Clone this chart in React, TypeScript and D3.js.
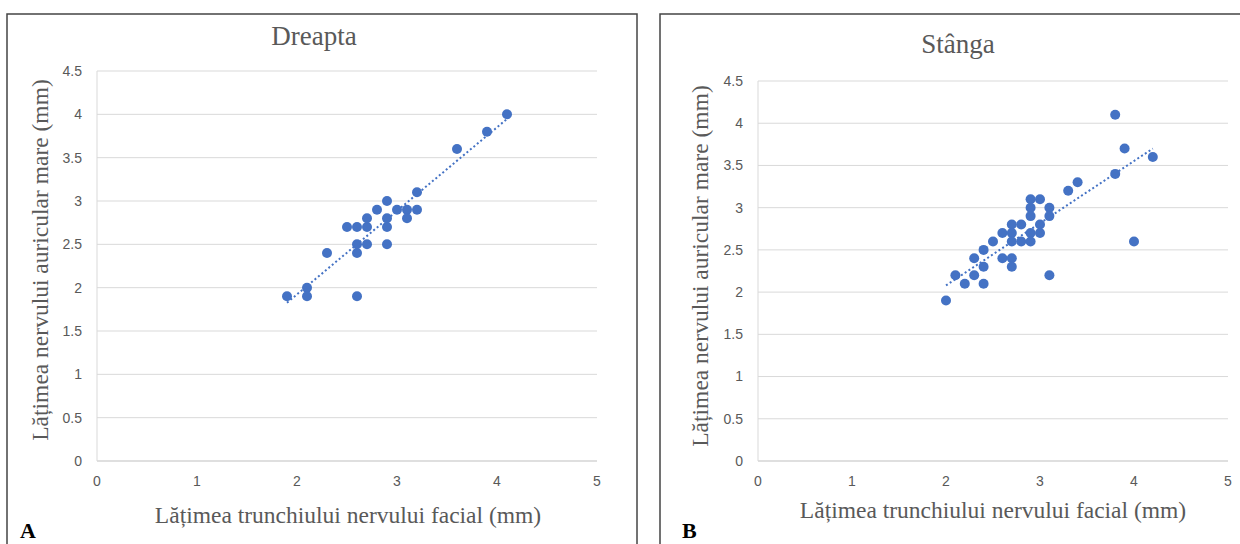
import React from "react";
import { scaleLinear, line } from "d3";

const xTicks = [0, 1, 2, 3, 4, 5];
const yTicks = [0, 0.5, 1, 1.5, 2, 2.5, 3, 3.5, 4, 4.5];

// Dreapta (right side)
const dreaptaX = [1.9, 2.1, 2.1, 2.6, 2.3, 2.5, 2.6, 2.7, 2.6, 2.6, 2.7, 2.7, 2.8, 2.9, 2.9, 2.9, 2.9, 3.0, 3.1, 3.1, 3.2, 3.2, 3.6, 3.9, 4.1];
const dreaptaY = [1.9, 2.0, 1.9, 1.9, 2.4, 2.7, 2.7, 2.7, 2.5, 2.4, 2.5, 2.8, 2.9, 3.0, 2.8, 2.7, 2.5, 2.9, 2.9, 2.8, 2.9, 3.1, 3.6, 3.8, 4.0];

// Stânga (left side)
const stangaX = [2.0, 2.1, 2.2, 2.3, 2.3, 2.4, 2.4, 2.4, 2.5, 2.6, 2.6, 2.7, 2.7, 2.7, 2.7, 2.7, 2.8, 2.8, 2.9, 2.9, 2.9, 2.9, 2.9, 3.0, 3.0, 3.0, 3.1, 3.1, 3.1, 3.3, 3.4, 3.8, 3.9, 3.8, 4.2, 4.0];
const stangaY = [1.9, 2.2, 2.1, 2.2, 2.4, 2.1, 2.3, 2.5, 2.6, 2.7, 2.4, 2.8, 2.7, 2.6, 2.4, 2.3, 2.8, 2.6, 3.1, 3.0, 2.9, 2.7, 2.6, 3.1, 2.8, 2.7, 3.0, 2.9, 2.2, 3.2, 3.3, 4.1, 3.7, 3.4, 3.6, 2.6];

const xTitle = "Lățimea trunchiului nervului facial (mm)";
const yTitle = "Lățimea nervului auricular mare (mm)";

const blue = "#4472C4";
const gray = "#595959";
const serif = "'Liberation Serif', 'Times New Roman', serif";
const sans = "'Liberation Sans', Arial, sans-serif";

function fit(xs: number[], ys: number[]) {
  const n = xs.length;
  const mx = xs.reduce((a, b) => a + b, 0) / n;
  const my = ys.reduce((a, b) => a + b, 0) / n;
  let sxy = 0, sxx = 0;
  xs.forEach((x, i) => {
    sxy += (x - mx) * (ys[i] - my);
    sxx += (x - mx) * (x - mx);
  });
  const b = sxy / sxx;
  return (x: number) => my + b * (x - mx);
}

type PanelProps = {
  box: [number, number, number, number];
  plot: { left: number; right: number; top: number; bottom: number };
  title: string;
  titlePos: [number, number];
  xTitlePos: [number, number];
  yTitlePos: [number, number];
  letter: string;
  letterX: number;
  xs: number[];
  ys: number[];
};

function Panel(p: PanelProps) {
  const x = scaleLinear().domain([0, 5]).range([p.plot.left, p.plot.right]);
  const y = scaleLinear().domain([0, 4.5]).range([p.plot.bottom, p.plot.top]);
  const f = fit(p.xs, p.ys);
  const x0 = Math.min(...p.xs);
  const x1 = Math.max(...p.xs);
  const trend = line<number>()
    .x((d) => x(d))
    .y((d) => y(f(d)))([x0, x1]);
  const [bx, by, bw, bh] = p.box;
  return (
    <g>
      <rect x={bx} y={by} width={bw} height={bh} fill="white" stroke="#444" strokeWidth={1.5} />
      <text x={p.titlePos[0]} y={p.titlePos[1]} textAnchor="middle" fontFamily={serif} fontSize={27} fill={gray}>
        {p.title}
      </text>
      {yTicks.map((t) => (
        <g key={t}>
          <line x1={x(0)} x2={x(5)} y1={y(t)} y2={y(t)} stroke={t === 0 ? "#bfbfbf" : "#d9d9d9"} strokeWidth={1} />
          <text x={x(0) - 15} y={y(t)} dy="0.35em" textAnchor="end" fontFamily={sans} fontSize={14} fill={gray}>
            {t}
          </text>
        </g>
      ))}
      <line x1={x(0)} x2={x(0)} y1={y(0)} y2={y(4.5)} stroke="#d9d9d9" strokeWidth={1} />
      {xTicks.map((t) => (
        <text key={t} x={x(t)} y={y(0) + 20} dy="0.35em" textAnchor="middle" fontFamily={sans} fontSize={14} fill={gray}>
          {t}
        </text>
      ))}
      <path d={trend || ""} fill="none" stroke={blue} strokeWidth={2} strokeDasharray="2 2.5" />
      {p.xs.map((v, i) => (
        <circle key={i} cx={x(v)} cy={y(p.ys[i])} r={5} fill={blue} />
      ))}
      <text x={p.xTitlePos[0]} y={p.xTitlePos[1]} dy="0.35em" textAnchor="middle" fontFamily={serif} fontSize={23.5} fill={gray}>
        {xTitle}
      </text>
      <text
        transform={`translate(${p.yTitlePos[0]},${p.yTitlePos[1]}) rotate(-90)`}
        dy="0.35em"
        textAnchor="middle"
        fontFamily={serif}
        fontSize={23.5}
        fill={gray}
      >
        {yTitle}
      </text>
      <text x={p.letterX} y={538} fontFamily={serif} fontWeight="bold" fontSize={22} fill="#000">
        {p.letter}
      </text>
    </g>
  );
}

export default function App() {
  return (
    <svg width={1240} height={544} style={{ position: "absolute", left: 0, top: 0, background: "white" }}>
      <Panel
        box={[7, 14, 630, 540]}
        plot={{ left: 97, right: 597, top: 71, bottom: 461 }}
        title="Dreapta"
        titlePos={[314, 45]}
        xTitlePos={[348, 515]}
        yTitlePos={[40, 260]}
        letter="A"
        letterX={20}
        xs={dreaptaX}
        ys={dreaptaY}
      />
      <Panel
        box={[660, 14, 600, 540]}
        plot={{ left: 758, right: 1228, top: 81, bottom: 461 }}
        title="Stânga"
        titlePos={[958, 53]}
        xTitlePos={[993, 510]}
        yTitlePos={[700, 266]}
        letter="B"
        letterX={682}
        xs={stangaX}
        ys={stangaY}
      />
    </svg>
  );
}
